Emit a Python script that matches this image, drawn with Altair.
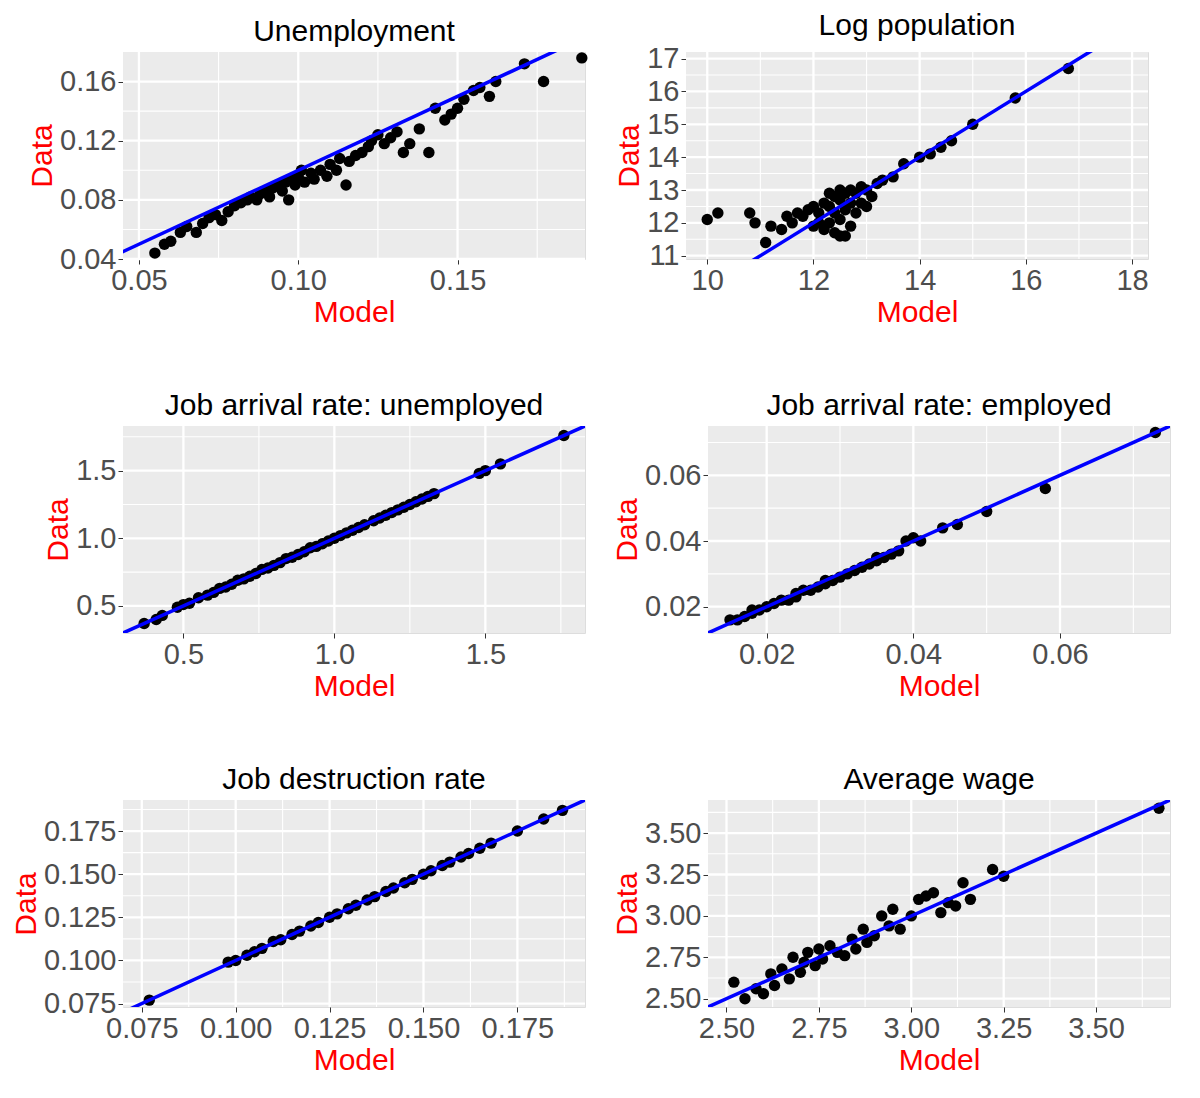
import altair as alt
import pandas as pd

FONT = "Liberation Sans"

# Unemployment
unemp_model = [0.055, 0.058, 0.060, 0.063, 0.065, 0.068, 0.070, 0.072, 0.074, 0.076, 0.078, 0.080, 0.082, 0.084,
               0.085, 0.087, 0.088, 0.090, 0.091, 0.092, 0.094, 0.095, 0.096, 0.097, 0.098, 0.099, 0.100, 0.101,
               0.102, 0.104, 0.105, 0.107, 0.109, 0.110, 0.112, 0.113, 0.115, 0.116, 0.118, 0.120, 0.122, 0.123,
               0.125, 0.127, 0.129, 0.131, 0.133, 0.135, 0.138, 0.141, 0.143, 0.146, 0.148, 0.150, 0.152, 0.155,
               0.157, 0.160, 0.162, 0.171, 0.177, 0.189]
unemp_data = [0.044, 0.050, 0.052, 0.058, 0.062, 0.058, 0.064, 0.068, 0.070, 0.066, 0.072, 0.076, 0.078, 0.080,
              0.082, 0.080, 0.084, 0.086, 0.082, 0.088, 0.090, 0.086, 0.092, 0.080, 0.094, 0.090, 0.096, 0.100,
              0.092, 0.098, 0.094, 0.100, 0.096, 0.104, 0.100, 0.108, 0.090, 0.106, 0.110, 0.112, 0.116, 0.120,
              0.124, 0.118, 0.122, 0.126, 0.112, 0.118, 0.128, 0.112, 0.142, 0.134, 0.138, 0.142, 0.148, 0.154,
              0.156, 0.150, 0.160, 0.172, 0.160, 0.176]

# Log population
pop_model = [10.0, 10.2, 10.8, 10.9, 11.1, 11.2, 11.4, 11.5, 11.6, 11.7, 11.8, 11.9, 12.0, 12.0, 12.1, 12.1, 12.2,
             12.2, 12.3, 12.3, 12.3, 12.4, 12.4, 12.4, 12.5, 12.5, 12.5, 12.5, 12.6, 12.6, 12.6, 12.7, 12.7, 12.7,
             12.8, 12.8, 12.9, 12.9, 13.0, 13.0, 13.1, 13.2, 13.3, 13.5, 13.7, 14.0, 14.2, 14.4, 14.6, 15.0,
             15.8, 16.8]
pop_data = [12.1, 12.3, 12.3, 12.0, 11.4, 11.9, 11.8, 12.2, 12.0, 12.3, 12.2, 12.4, 11.9, 12.5, 12.0, 12.3, 11.8,
            12.6, 12.0, 12.5, 12.9, 11.7, 12.3, 12.8, 11.6, 12.1, 12.7, 13.0, 11.6, 12.4, 12.9, 11.9, 12.6, 13.0,
            12.3, 12.9, 12.6, 13.1, 12.5, 13.0, 12.8, 13.2, 13.3, 13.4, 13.8, 14.0, 14.1, 14.3, 14.5, 15.0,
            15.8, 16.7]

# Job arrival rate: unemployed
jau_model = [0.37, 0.41, 0.43, 0.48, 0.50, 0.52, 0.55, 0.58, 0.60, 0.62, 0.64, 0.66, 0.68, 0.70, 0.72, 0.74,
             0.76, 0.78, 0.80, 0.82, 0.84, 0.86, 0.88, 0.90, 0.92, 0.94, 0.96, 0.98, 1.00, 1.02, 1.04, 1.06, 1.08,
             1.10, 1.13, 1.15, 1.17, 1.19, 1.21, 1.23, 1.25, 1.27, 1.29, 1.31, 1.33, 1.48, 1.50, 1.55, 1.76]
jau_data = [0.37, 0.40, 0.43, 0.49, 0.51, 0.52, 0.56, 0.58, 0.60, 0.63, 0.64, 0.66, 0.69, 0.70, 0.72, 0.74,
            0.77, 0.78, 0.80, 0.82, 0.85, 0.86, 0.88, 0.90, 0.93, 0.94, 0.96, 0.98, 1.00, 1.02, 1.04, 1.06, 1.08,
            1.10, 1.13, 1.15, 1.17, 1.19, 1.21, 1.23, 1.25, 1.27, 1.29, 1.31, 1.33, 1.48, 1.50, 1.55, 1.76]

# Job arrival rate: employed
jae_model = [0.015, 0.016, 0.017, 0.018, 0.018, 0.019, 0.020, 0.021, 0.022, 0.023, 0.024, 0.024, 0.025, 0.026,
             0.027, 0.028, 0.028, 0.029, 0.030, 0.031, 0.032, 0.033, 0.034, 0.035, 0.035, 0.036, 0.037, 0.038,
             0.039, 0.040, 0.041, 0.044, 0.046, 0.050, 0.058, 0.073]
jae_data = [0.016, 0.016, 0.017, 0.018, 0.019, 0.019, 0.020, 0.021, 0.022, 0.022, 0.024, 0.023, 0.025, 0.025,
            0.026, 0.027, 0.028, 0.028, 0.029, 0.030, 0.031, 0.032, 0.033, 0.034, 0.035, 0.035, 0.036, 0.037,
            0.040, 0.041, 0.040, 0.044, 0.045, 0.049, 0.056, 0.073]

# Job destruction rate
jd_model = [0.077, 0.098, 0.100, 0.103, 0.105, 0.107, 0.110, 0.112, 0.115, 0.117, 0.120, 0.122, 0.125, 0.127,
            0.130, 0.132, 0.135, 0.137, 0.140, 0.142, 0.145, 0.147, 0.150, 0.152, 0.155, 0.157, 0.160, 0.162,
            0.165, 0.168, 0.175, 0.182, 0.187]
jd_data = [0.077, 0.099, 0.100, 0.103, 0.105, 0.107, 0.111, 0.112, 0.115, 0.117, 0.120, 0.122, 0.125, 0.127,
           0.130, 0.132, 0.135, 0.137, 0.140, 0.142, 0.145, 0.147, 0.150, 0.152, 0.155, 0.157, 0.160, 0.162,
           0.165, 0.168, 0.175, 0.182, 0.187]

# Average wage
wage_model = [2.52, 2.55, 2.58, 2.60, 2.62, 2.63, 2.65, 2.67, 2.68, 2.70, 2.71, 2.72, 2.74, 2.75, 2.76, 2.78,
              2.80, 2.82, 2.84, 2.85, 2.87, 2.88, 2.90, 2.92, 2.94, 2.95, 2.97, 3.00, 3.02, 3.04, 3.06, 3.08,
              3.10, 3.12, 3.14, 3.16, 3.22, 3.25, 3.67]
wage_data = [2.60, 2.50, 2.56, 2.53, 2.65, 2.58, 2.68, 2.62, 2.75, 2.66, 2.72, 2.78, 2.70, 2.80, 2.74, 2.82,
             2.78, 2.76, 2.86, 2.80, 2.92, 2.84, 2.88, 3.00, 2.94, 3.04, 2.92, 3.00, 3.10, 3.12, 3.14, 3.02,
             3.08, 3.06, 3.20, 3.10, 3.28, 3.24, 3.65]

panels = [
    ("Unemployment", unemp_model, unemp_data, [0.045, 0.19], [0.04, 0.18],
     [0.05, 0.10, 0.15], [0.04, 0.08, 0.12, 0.16], [0.075, 0.125, 0.175], [0.06, 0.10, 0.14], ".2f", ".2f"),
    ("Log population", pop_model, pop_data, [9.6, 18.3], [10.9, 17.2],
     [10, 12, 14, 16, 18], [11, 12, 13, 14, 15, 16, 17], [11, 13, 15, 17], [11.5, 12.5, 13.5, 14.5, 15.5, 16.5],
     "d", "d"),
    ("Job arrival rate: unemployed", jau_model, jau_data, [0.3, 1.83], [0.3, 1.83],
     [0.5, 1.0, 1.5], [0.5, 1.0, 1.5], [0.75, 1.25, 1.75], [0.75, 1.25, 1.75], ".1f", ".1f"),
    ("Job arrival rate: employed", jae_model, jae_data, [0.012, 0.075], [0.012, 0.075],
     [0.02, 0.04, 0.06], [0.02, 0.04, 0.06], [0.03, 0.05, 0.07], [0.03, 0.05, 0.07], ".2f", ".2f"),
    ("Job destruction rate", jd_model, jd_data, [0.07, 0.193], [0.073, 0.193],
     [0.075, 0.1, 0.125, 0.15, 0.175], [0.075, 0.1, 0.125, 0.15, 0.175],
     [0.0875, 0.1125, 0.1375, 0.1625, 0.1875], [0.0875, 0.1125, 0.1375, 0.1625, 0.1875], ".3f", ".3f"),
    ("Average wage", wage_model, wage_data, [2.45, 3.7], [2.45, 3.7],
     [2.5, 2.75, 3.0, 3.25, 3.5], [2.5, 2.75, 3.0, 3.25, 3.5],
     [2.625, 2.875, 3.125, 3.375, 3.625], [2.625, 2.875, 3.125, 3.375, 3.625], ".2f", ".2f"),
]

W, H = 462, 207


def make_axis(values, fmt, title):
    return alt.Axis(values=values, format=fmt, title=title, titleColor="red", titleFontSize=30,
                    titleFontWeight="normal", labelFontSize=29, labelColor="#4D4D4D", grid=False,
                    domain=False, tickColor="#333333", tickSize=5, labelFlush=False,
                    labelOverlap=False, labelPadding=2, titlePadding=2)


def make_panel(title, mx, dy, xd, yd, xt, yt, xm, ym, xf, yf):
    df = pd.DataFrame({"Model": mx, "Data": dy})
    xs = alt.Scale(domain=xd, nice=False, zero=False)
    ys = alt.Scale(domain=yd, nice=False, zero=False)
    ax = make_axis(xt, xf, "Model")
    ay = make_axis(yt, yf, "Data")

    def vrules(vals, w):
        return alt.Chart(pd.DataFrame({"Model": vals})).mark_rule(color="white", strokeWidth=w).encode(
            x=alt.X("Model:Q", scale=xs, axis=ax))

    def hrules(vals, w):
        return alt.Chart(pd.DataFrame({"Data": vals})).mark_rule(color="white", strokeWidth=w).encode(
            y=alt.Y("Data:Q", scale=ys, axis=ay))

    bg = alt.Chart(pd.DataFrame({"v": [0]})).mark_rect(color="#EBEBEB").encode(
        x=alt.value(0), x2=alt.value(W), y=alt.value(0), y2=alt.value(H))
    layers = [bg]
    if xm:
        layers.append(vrules(xm, 1.1))
    if ym:
        layers.append(hrules(ym, 1.1))
    layers.append(vrules(xt, 2.3))
    layers.append(hrules(yt, 2.3))
    pts = alt.Chart(df).mark_circle(size=130, color="black", opacity=1).encode(
        x=alt.X("Model:Q", scale=xs, axis=ax), y=alt.Y("Data:Q", scale=ys, axis=ay))
    lo, hi = min(xd[0], yd[0]), max(xd[1], yd[1])
    line = alt.Chart(pd.DataFrame({"Model": [lo, hi], "Data": [lo, hi]})).mark_line(
        color="blue", strokeWidth=3.5, clip=True).encode(
        x=alt.X("Model:Q", scale=xs, axis=ax), y=alt.Y("Data:Q", scale=ys, axis=ay))
    layers += [pts, line]
    return alt.layer(*layers).properties(
        width=W, height=H,
        title=alt.TitleParams(title, fontSize=30, fontWeight="normal", font=FONT, color="black", offset=4))


charts = [make_panel(*p) for p in panels]
rows = [alt.hconcat(charts[i], charts[i + 1], spacing=25) for i in range(0, 6, 2)]
chart = alt.vconcat(*rows, spacing=62).configure_view(stroke=None).configure(
    font=FONT).configure_axis(labelFont=FONT, titleFont=FONT).properties(padding=2)

chart.save("out.html", embed_options={"renderer": "svg", "actions": False})
